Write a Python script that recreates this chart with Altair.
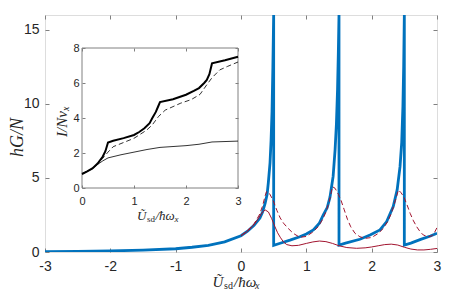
import altair as alt
import pandas as pd

# ---------------- data ----------------
blue_u = [-3, -2.5, -2, -1.5, -1, -0.75, -0.5, -0.25, 0, 0.1, 0.2, 0.29, 0.33, 0.37, 0.4, 0.418, 0.444, 0.46, 0.475, 0.488, 0.5,
          0.5, 0.6, 0.75, 0.9, 1.0, 1.107, 1.2, 1.26, 1.32, 1.362, 1.41, 1.44, 1.46, 1.478, 1.49, 1.5,
          1.5, 1.6, 1.82, 1.975, 2.127, 2.23, 2.33, 2.39, 2.434, 2.46, 2.478, 2.49, 2.5,
          2.5, 2.6, 2.75, 2.9, 3.0]
blue_g = [0.02, 0.04, 0.07, 0.13, 0.22, 0.32, 0.45, 0.68, 1.1, 1.4, 1.8, 2.3, 2.7, 3.29, 3.9, 4.66, 6.0, 7.5, 9.5, 12.5, 16,
          0.45, 0.59, 0.8, 1.03, 1.22, 1.49, 1.95, 2.5, 3.0, 3.7, 5.1, 6.9, 8.6, 11, 13.5, 16,
          0.47, 0.6, 0.86, 1.15, 1.49, 2.05, 3.06, 4.19, 5.76, 7.4, 9.8, 12.5, 16,
          0.47, 0.6, 0.85, 1.08, 1.26]

red_u = [0, 0.1, 0.2, 0.28, 0.33, 0.37, 0.42, 0.47, 0.52, 0.56, 0.6, 0.65, 0.7, 0.78, 0.88, 1.0, 1.1, 1.2, 1.3,
         1.4, 1.5, 1.62, 1.77, 1.9, 2.0, 2.1, 2.2, 2.3, 2.4, 2.5, 2.6, 2.7, 2.8, 2.9, 3.0]
red_g = [1.1, 1.4, 1.85, 2.35, 2.7, 2.84, 2.7, 2.25, 1.7, 1.3, 1.0, 0.68, 0.5, 0.42, 0.45, 0.58, 0.68, 0.74, 0.7,
         0.58, 0.42, 0.3, 0.25, 0.28, 0.34, 0.42, 0.5, 0.53, 0.47, 0.32, 0.2, 0.14, 0.14, 0.18, 0.24]

dash_u = [0, 0.1, 0.2, 0.28, 0.33, 0.37, 0.39, 0.43, 0.49, 0.55, 0.6, 0.65, 0.72, 0.8, 0.9, 1.0, 1.1, 1.18, 1.25,
          1.3, 1.35, 1.4, 1.44, 1.49, 1.53, 1.58, 1.63, 1.68, 1.745, 1.82, 1.9, 2.0, 2.1, 2.18, 2.25, 2.3,
          2.35, 2.41, 2.45, 2.49, 2.54, 2.59, 2.64, 2.69, 2.74, 2.79, 2.86, 2.92, 2.96, 3.0]
dash_g = [1.1, 1.45, 1.9, 2.5, 3.1, 3.8, 4.07, 4.0, 3.5, 2.8, 2.3, 1.95, 1.6, 1.26, 0.99, 1.05, 1.35, 1.7, 2.2,
          2.7, 3.4, 4.41, 4.3, 3.9, 3.5, 2.85, 2.2, 1.7, 1.26, 1.03, 0.92, 0.98, 1.25, 1.6, 2.1, 2.6,
          3.3, 4.19, 4.0, 3.74, 3.2, 2.6, 2.1, 1.7, 1.38, 1.15, 1.03, 1.08, 1.3, 1.65]

ins_u_thick = [0, 0.1, 0.2, 0.3, 0.4, 0.45, 0.5, 0.6, 0.8, 1.0, 1.1, 1.2, 1.3, 1.35, 1.42, 1.47, 1.5,
               1.75, 2.0, 2.15, 2.25, 2.35, 2.4, 2.45, 2.5, 2.75, 3.0]
ins_i_thick = [0.8, 0.95, 1.12, 1.4, 1.8, 2.1, 2.6, 2.7, 2.85, 3.03, 3.2, 3.41, 3.7, 3.98, 4.35, 4.7, 4.91,
               5.07, 5.33, 5.55, 5.71, 6.0, 6.17, 6.5, 7.12, 7.3, 7.5]

ins_u_dash = [0, 0.2, 0.3, 0.4, 0.5, 0.6, 0.8, 1.0, 1.24, 1.35, 1.47, 1.6, 1.9, 2.1, 2.27, 2.4, 2.5, 2.65, 2.8, 3.0]
ins_i_dash = [0.8, 1.12, 1.38, 1.7, 2.05, 2.36, 2.6, 2.84, 3.3, 3.6, 4.08, 4.45, 4.85, 5.05, 5.35, 5.9, 6.3, 6.75, 6.95, 7.2]

ins_u_thin = [0, 0.2, 0.3, 0.4, 0.5, 0.75, 1.0, 1.25, 1.5, 2.0, 2.25, 2.5, 3.0]
ins_i_thin = [0.8, 1.1, 1.35, 1.55, 1.72, 1.9, 2.05, 2.2, 2.32, 2.42, 2.5, 2.63, 2.68]

main_xticks = [-3, -2, -1, 0, 1, 2, 3]
main_yticks = [0, 5, 10, 15]
ins_xticks = [0, 1, 2, 3]
ins_yticks = [0, 2, 4, 6, 8]

# ---------------- styling ----------------
W, H = 392, 237
IX0, IX1, IY0, IY1 = 37, 193, 33, 173   # inset frame in plot pixels
BLUE = "#0072BD"
RED = "#A2142F"
GRAY = "#808080"
TXT = "#262626"
SANS = "Liberation Sans"
SERIF = "Liberation Serif"

df_blue = pd.DataFrame({"u": blue_u, "g": blue_g, "i": list(range(len(blue_u)))})
df_red = pd.DataFrame({"u": red_u, "g": red_g})
df_dash = pd.DataFrame({"u": dash_u, "g": dash_g})
df_thick = pd.DataFrame({"u": ins_u_thick, "v": ins_i_thick})
df_idash = pd.DataFrame({"u": ins_u_dash, "v": ins_i_dash})
df_thin = pd.DataFrame({"u": ins_u_thin, "v": ins_i_thin})
one = pd.DataFrame({"a": [0]})

sx_main = alt.Scale(domain=[-3, 3], nice=False, zero=False)
sy_main = alt.Scale(domain=[0, 16], nice=False, zero=False)
sx_in = alt.Scale(domain=[0, 3], range=[IX0, IX1], nice=False, zero=False)
sy_in = alt.Scale(domain=[0, 8], range=[IY1, IY0], nice=False, zero=False)


def label_axis(orient, values, offset, pad, size, z=0):
    return alt.Axis(orient=orient, values=values, offset=offset, ticks=False, tickSize=0,
                    domain=False, grid=False, labels=True, labelPadding=pad,
                    labelFont=SANS, labelFontSize=size, labelColor=TXT, title=None,
                    labelFlush=False, labelOverlap=False, zindex=z,
                    labelExpr="'' + datum.value")


def tick_axis(orient, values, offset, size, z=0):
    return alt.Axis(orient=orient, values=values, offset=offset, ticks=True, tickSize=size,
                    tickColor=GRAY, tickWidth=1, domain=False, grid=False, labels=False,
                    title=None, zindex=z)


def ghost(df, xs, ys, xf, yf, ax_x, ax_y):
    return alt.Chart(df).mark_point(opacity=0, size=1).encode(
        x=alt.X(xf, scale=xs, axis=ax_x), y=alt.Y(yf, scale=ys, axis=ax_y))


# main curves
blue = alt.Chart(df_blue).mark_line(color=BLUE, strokeWidth=2.8, clip=True).encode(
    x=alt.X("u:Q", scale=sx_main, axis=label_axis("bottom", main_xticks, 0, 7, 14)),
    y=alt.Y("g:Q", scale=sy_main, axis=label_axis("left", main_yticks, 0, 6, 14)),
    order=alt.Order("i:Q"))
red = alt.Chart(df_red).mark_line(color=RED, strokeWidth=1.0, clip=True).encode(
    x=alt.X("u:Q", scale=sx_main, axis=None), y=alt.Y("g:Q", scale=sy_main, axis=None))
reddash = alt.Chart(df_dash).mark_line(color=RED, strokeWidth=1.0, strokeDash=[5, 3], clip=True).encode(
    x=alt.X("u:Q", scale=sx_main, axis=None), y=alt.Y("g:Q", scale=sy_main, axis=None))

# main inward ticks on all four sides
mt1 = ghost(df_red, sx_main, sy_main, "u:Q", "g:Q",
            tick_axis("top", main_xticks, -H, 4), tick_axis("right", main_yticks, -W, 4))
mt2 = ghost(df_red, sx_main, sy_main, "u:Q", "g:Q",
            tick_axis("bottom", main_xticks, -H, 4), tick_axis("left", main_yticks, -W, 4))

# inset box
inset_bg = alt.Chart(one).mark_rect(fill="white", stroke=GRAY, strokeWidth=1).encode(
    x=alt.value(IX0), x2=alt.value(IX1), y=alt.value(IY0), y2=alt.value(IY1))

thick = alt.Chart(df_thick).mark_line(color="black", strokeWidth=2.0).encode(
    x=alt.X("u:Q", scale=sx_in, axis=label_axis("bottom", ins_xticks, IY1 - H, 7, 11, 1)),
    y=alt.Y("v:Q", scale=sy_in, axis=label_axis("left", ins_yticks, -IX0, 3, 11, 1)))
idash = alt.Chart(df_idash).mark_line(color="black", strokeWidth=0.8, strokeDash=[5, 3]).encode(
    x=alt.X("u:Q", scale=sx_in, axis=None), y=alt.Y("v:Q", scale=sy_in, axis=None))
thin = alt.Chart(df_thin).mark_line(color="black", strokeWidth=0.8).encode(
    x=alt.X("u:Q", scale=sx_in, axis=None), y=alt.Y("v:Q", scale=sy_in, axis=None))

it1 = ghost(df_thin, sx_in, sy_in, "u:Q", "v:Q",
            tick_axis("top", ins_xticks, -IY1, 3, 1), tick_axis("right", ins_yticks, IX0 - W, 3, 1))
it2 = ghost(df_thin, sx_in, sy_in, "u:Q", "v:Q",
            tick_axis("bottom", ins_xticks, IY0 - H, 3, 1), tick_axis("left", ins_yticks, -IX1, 3, 1))


def txt(s, x, y, size, italic=True, angle=0, font=SERIF):
    kw = dict(text=s, font=font, fontSize=size, color=TXT, align="left", baseline="alphabetic")
    if italic:
        kw["fontStyle"] = "italic"
    if angle:
        kw["angle"] = angle
    return alt.Chart(one).mark_text(**kw).encode(x=alt.value(x), y=alt.value(y))


titles = [
    # main x title
    txt("Ũ", 167.5, 271.5, 15),
    txt("sd", 179, 273.5, 10, italic=False),
    txt("/ħω", 189, 271.5, 15),
    txt("x", 210, 273.5, 10),
    # main y title
    txt("hG/N", -22, 142, 18, angle=270),
    # inset x title
    txt("Ũ", 92, 205, 13),
    txt("sd", 102, 207, 9, italic=False),
    txt("/ħω", 110.5, 205, 13),
    txt("x", 129.5, 207, 9),
    # inset y title
    txt("I/Nν", 22, 122, 15, angle=270),
    txt("x", 24, 96, 10, angle=270),
]

chart = alt.layer(
    mt1, mt2, blue, red, reddash, inset_bg, thick, idash, thin, it1, it2, *titles
).resolve_scale(x="independent", y="independent").properties(
    width=W, height=H,
    padding={"left": 37, "top": 7, "right": 12, "bottom": 39},
    autosize=alt.AutoSizeParams(type="none"),
).configure_view(stroke=GRAY, strokeWidth=1).configure(background="white")

chart.save("out.html", embed_options={"renderer": "svg", "actions": False})
